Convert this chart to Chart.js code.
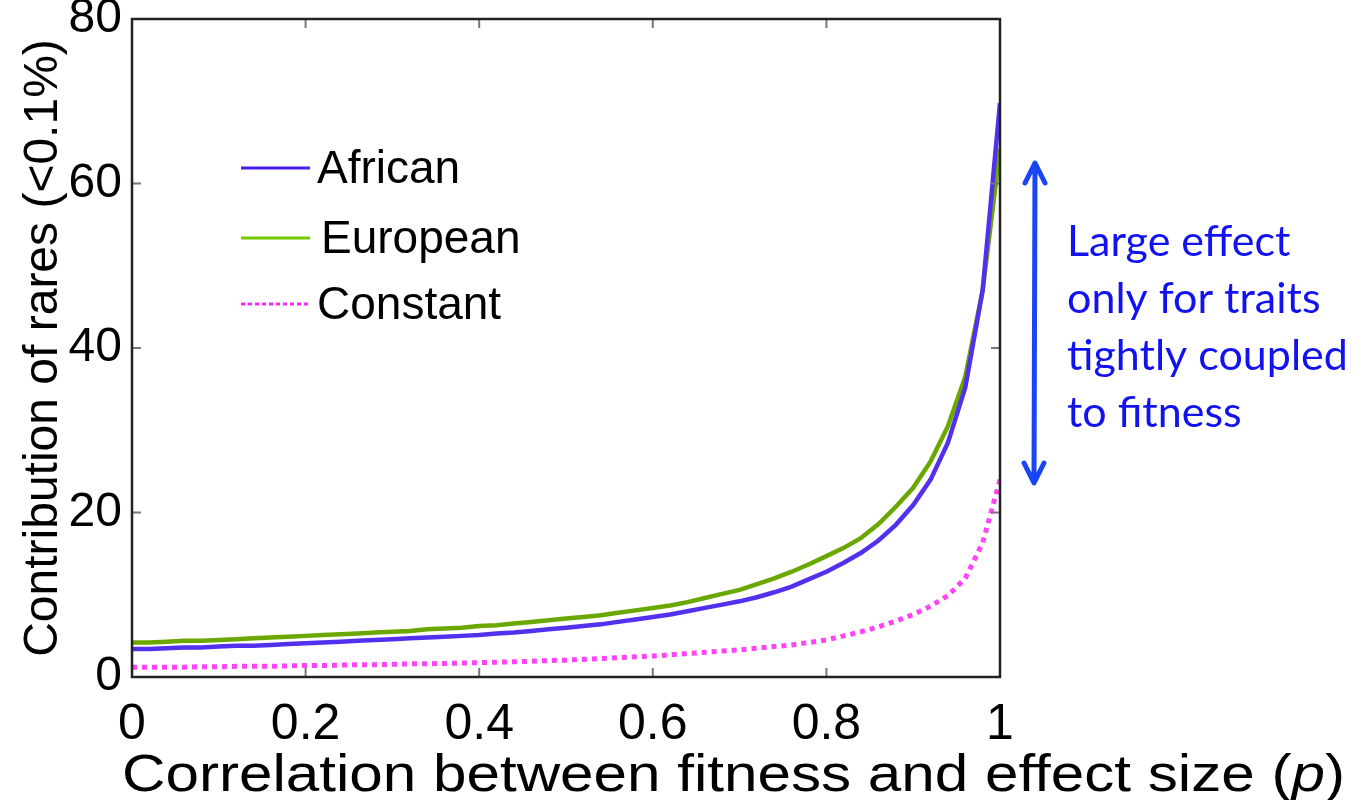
<!DOCTYPE html>
<html>
<head>
<meta charset="utf-8">
<script src="https://cdn.jsdelivr.net/npm/chart.js@4/dist/chart.umd.min.js"></script>
<style>
  html, body { margin: 0; padding: 0; background: #fff; }
  #wrap { width: 1370px; height: 800px; }
</style>
</head>
<body>
<div id="wrap"><canvas id="myChart" width="1370" height="800"></canvas></div>
<script>
// correlation p (x axis)
const pValues = [0, 0.02, 0.04, 0.06, 0.08, 0.1, 0.12, 0.14, 0.16, 0.18,
  0.2, 0.22, 0.24, 0.26, 0.28, 0.3, 0.32, 0.34, 0.36, 0.38,
  0.4, 0.42, 0.44, 0.46, 0.48, 0.5, 0.52, 0.54, 0.56, 0.58,
  0.6, 0.62, 0.64, 0.66, 0.68, 0.7, 0.72, 0.74, 0.76, 0.78,
  0.8, 0.82, 0.84, 0.86, 0.88, 0.9, 0.92, 0.94, 0.96, 0.98, 1];

const african = [3.4, 3.4, 3.5, 3.6, 3.6, 3.7, 3.8, 3.8, 3.9, 4.0,
  4.1, 4.2, 4.3, 4.4, 4.5, 4.6, 4.7, 4.8, 4.9, 5.0,
  5.1, 5.3, 5.4, 5.6, 5.8, 6.0, 6.2, 6.4, 6.7, 7.0,
  7.3, 7.6, 8.0, 8.4, 8.8, 9.2, 9.7, 10.3, 11.0, 11.9,
  12.8, 13.9, 15.1, 16.6, 18.5, 20.9, 24.0, 28.5, 35.2, 47.0, 69.8];

const european = [4.2, 4.2, 4.3, 4.4, 4.4, 4.5, 4.6, 4.7, 4.8, 4.9,
  5.0, 5.1, 5.2, 5.3, 5.4, 5.5, 5.6, 5.8, 5.9, 6.0,
  6.2, 6.3, 6.5, 6.7, 6.9, 7.1, 7.3, 7.5, 7.8, 8.1,
  8.4, 8.7, 9.1, 9.6, 10.1, 10.6, 11.3, 12.0, 12.8, 13.7,
  14.7, 15.7, 16.9, 18.6, 20.7, 23.0, 26.2, 30.5, 36.5, 47.0, 64.2];

const constant = [1.2, 1.2, 1.2, 1.2, 1.25, 1.25, 1.3, 1.3, 1.3, 1.35,
  1.4, 1.4, 1.45, 1.5, 1.5, 1.55, 1.6, 1.6, 1.65, 1.7,
  1.75, 1.8, 1.85, 1.9, 2.0, 2.05, 2.15, 2.25, 2.35, 2.45,
  2.55, 2.7, 2.85, 3.0, 3.15, 3.3, 3.5, 3.7, 3.9, 4.2,
  4.5, 5.0, 5.5, 6.1, 6.8, 7.6, 8.6, 9.9, 12.0, 16.3, 24.0];

const seriesNames = ['African', 'European', 'Constant'];
const xTicks = [0, 0.2, 0.4, 0.6, 0.8, 1];
const yTicks = [0, 20, 40, 60, 80];
const noteLines = ['Large effect', 'only for traits', 'tightly coupled', 'to fitness'];

const FONT = '"Liberation Sans", Arial, sans-serif';

function toPoints(ys) {
  return ys.map((y, i) => ({ x: pValues[i], y: y }));
}

// box, inward ticks, legend, x title and the blue note
const extras = {
  id: 'extras',
  afterDraw(chart) {
    const ctx = chart.ctx;
    const a = chart.chartArea;
    const xs = chart.scales.x, ys = chart.scales.y;
    ctx.save();

    // inward ticks
    ctx.strokeStyle = '#777';
    ctx.lineWidth = 2;
    xTicks.forEach(v => {
      const px = xs.getPixelForValue(v);
      if (v === 0 || v === 1) return;
      ctx.beginPath();
      ctx.moveTo(px, a.bottom); ctx.lineTo(px, a.bottom - 9);
      ctx.moveTo(px, a.top); ctx.lineTo(px, a.top + 9);
      ctx.stroke();
    });
    yTicks.forEach(v => {
      const py = ys.getPixelForValue(v);
      if (v === 0 || v === 80) return;
      ctx.beginPath();
      ctx.moveTo(a.left, py); ctx.lineTo(a.left + 9, py);
      ctx.moveTo(a.right, py); ctx.lineTo(a.right - 9, py);
      ctx.stroke();
    });

    // box
    ctx.strokeStyle = '#222';
    ctx.lineWidth = 2.5;
    ctx.strokeRect(a.left, a.top, a.right - a.left, a.bottom - a.top);

    // legend inside the axes
    const legY = [168, 238, 304];
    chart.data.datasets.forEach((ds, i) => {
      ctx.strokeStyle = ds.legendColor;
      ctx.lineWidth = 3;
      ctx.setLineDash(ds.borderDash && ds.borderDash.length ? [4, 3] : []);
      ctx.beginPath();
      ctx.moveTo(241, legY[i]); ctx.lineTo(310, legY[i]);
      ctx.stroke();
      ctx.setLineDash([]);
      ctx.fillStyle = '#000';
      ctx.font = '46px ' + FONT;
      ctx.textBaseline = 'middle';
      ctx.textAlign = 'left';
      ctx.fillText(ds.label, i === 1 ? 321 : 317, legY[i] + 2);
    });

    // x axis title with italic p, stretched a little to the reference width
    ctx.textBaseline = 'alphabetic';
    const t1 = 'Correlation between fitness and effect size (';
    const t2 = 'p';
    const t3 = ')';
    const fs = 52;
    ctx.font = fs + 'px ' + FONT;
    const w1 = ctx.measureText(t1).width, w3 = ctx.measureText(t3).width;
    ctx.font = 'italic ' + fs + 'px ' + FONT;
    const w2 = ctx.measureText(t2).width;
    const total = w1 + w2 + w3;
    const sx = 1223 / total;
    ctx.save();
    ctx.translate(122, 791);
    ctx.scale(sx, 1);
    ctx.fillStyle = '#000';
    ctx.font = fs + 'px ' + FONT;
    ctx.fillText(t1, 0, 0);
    ctx.font = 'italic ' + fs + 'px ' + FONT;
    ctx.fillText(t2, w1, 0);
    ctx.font = fs + 'px ' + FONT;
    ctx.fillText(t3, w1 + w2, 0);
    ctx.restore();

    // blue double arrow
    const ax = 1035, top = 163, bot = 483;
    ctx.strokeStyle = '#1a45f2';
    ctx.lineWidth = 5;
    ctx.lineCap = 'round';
    ctx.lineJoin = 'round';
    ctx.beginPath();
    ctx.moveTo(ax, top + 2); ctx.lineTo(ax - 1, bot - 2);
    ctx.moveTo(ax - 10, top + 20); ctx.lineTo(ax, top); ctx.lineTo(ax + 10, top + 20);
    ctx.moveTo(ax - 11, bot - 20); ctx.lineTo(ax - 1, bot); ctx.lineTo(ax + 9, bot - 20);
    ctx.stroke();

    // note text
    ctx.fillStyle = '#1212f0';
    ctx.font = '43px Lato, "Open Sans", sans-serif';
    ctx.textAlign = 'left';
    noteLines.forEach((s, i) => {
      ctx.fillText(s, 1067, 256 + i * 57);
    });
    ctx.restore();
  }
};

const data = {
  datasets: [
    {
      label: seriesNames[0],
      data: toPoints(african),
      borderColor: '#5230ee',
      legendColor: '#4a1ee8',
      borderWidth: 4.5,
      pointRadius: 0,
      fill: false
    },
    {
      label: seriesNames[1],
      data: toPoints(european),
      borderColor: '#6aa800',
      legendColor: '#74c800',
      borderWidth: 4.5,
      pointRadius: 0,
      fill: false
    },
    {
      label: seriesNames[2],
      data: toPoints(constant),
      borderColor: '#ff44f8',
      legendColor: '#ff22ff',
      borderWidth: 5,
      borderDash: [5, 5],
      pointRadius: 0,
      fill: false
    }
  ]
};

const config = {
  type: 'line',
  data: data,
  options: {
    responsive: false,
    animation: false,
    layout: { padding: { left: 0, right: 370, top: 19, bottom: 0 } },
    plugins: {
      legend: { display: false },
      tooltip: { enabled: false },
      title: { display: false }
    },
    scales: {
      x: {
        type: 'linear',
        min: 0,
        max: 1,
        afterBuildTicks: scale => { scale.ticks = xTicks.map(v => ({ value: v })); },
        afterFit: scale => {
          scale.height = 123;
          scale.paddingLeft = 0;
          scale.paddingRight = 0;
        },
        grid: { display: false, drawTicks: false },
        border: { display: false },
        ticks: {
          color: '#000',
          padding: 18,
          font: { family: FONT, size: 50 },
          callback: v => String(v)
        }
      },
      y: {
        type: 'linear',
        min: 0,
        max: 80,
        afterBuildTicks: scale => { scale.ticks = yTicks.map(v => ({ value: v })); },
        afterFit: scale => {
          scale.width = 132;
          scale.paddingTop = 0;
          scale.paddingBottom = 0;
        },
        grid: { display: false, drawTicks: false },
        border: { display: false },
        title: {
          display: true,
          text: 'Contribution of rares (<0.1%)',
          color: '#000',
          font: { family: FONT, size: 48 },
          padding: { top: 15, bottom: 0 }
        },
        ticks: {
          color: '#000',
          padding: 10,
          font: { family: FONT, size: 48 },
          callback: v => String(v)
        }
      }
    }
  },
  plugins: [extras]
};

const ctx = document.getElementById('myChart').getContext('2d');
const myChart = new Chart(ctx, config);
</script>
</body>
</html>
